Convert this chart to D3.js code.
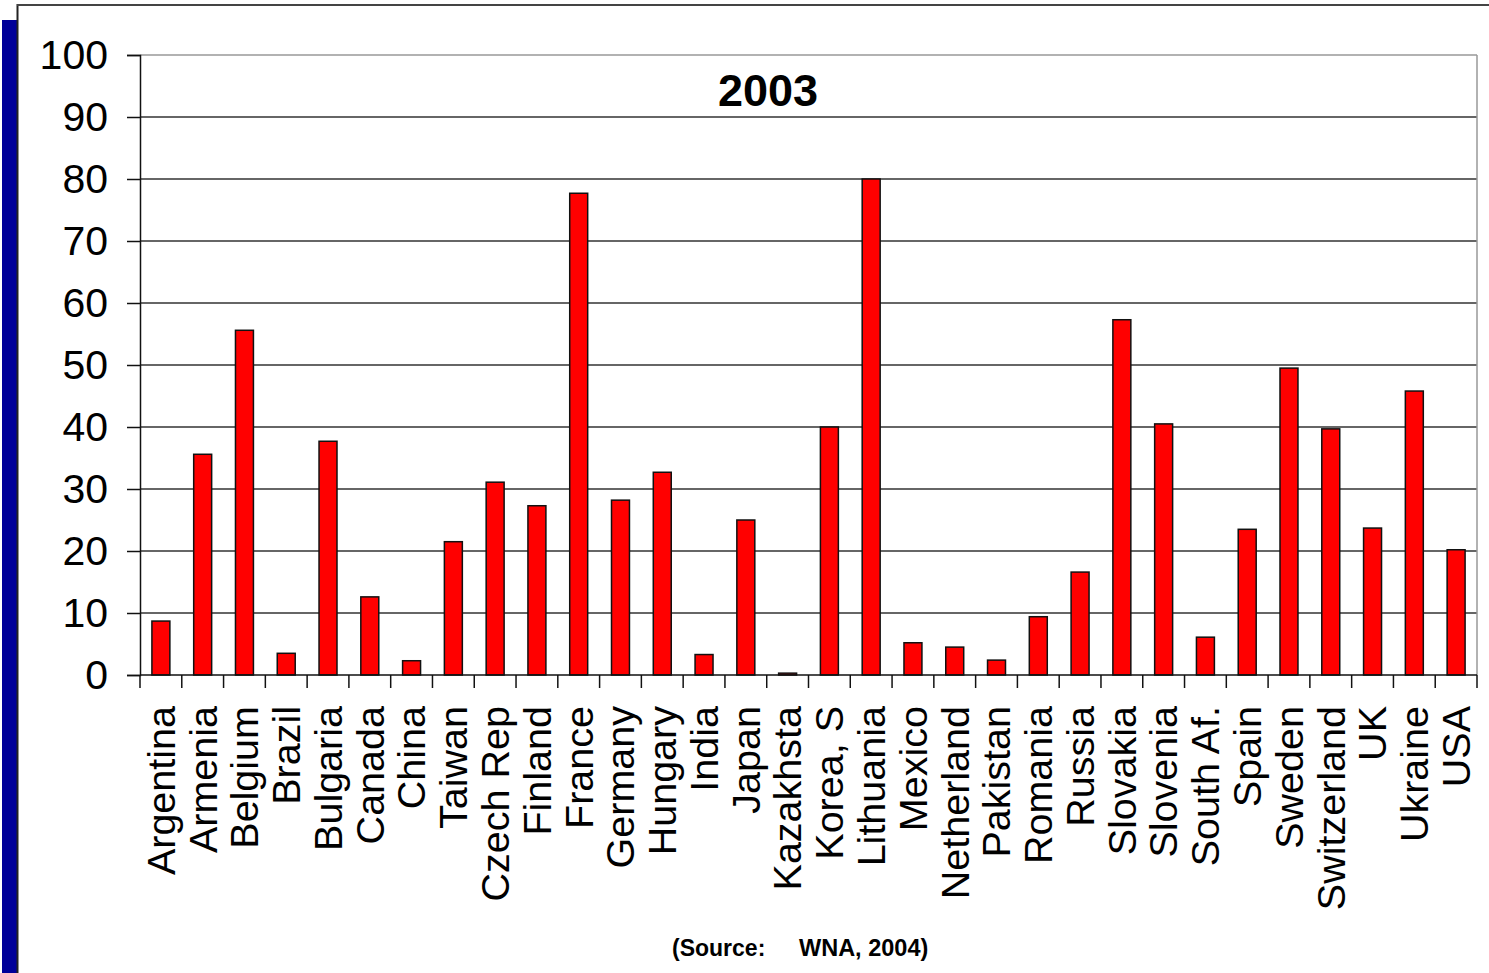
<!DOCTYPE html>
<html>
<head>
<meta charset="utf-8">
<script src="https://cdn.jsdelivr.net/npm/d3@7"></script>
<style>
  html, body { margin: 0; padding: 0; background: #fff; }
  svg { display: block; font-family: "Liberation Sans", Arial, sans-serif; }
</style>
</head>
<body>
<svg id="chart" width="1489" height="973"></svg>
<script>
// Nuclear share of electricity generation (%), 2003
const countries = ["Argentina", "Armenia", "Belgium", "Brazil", "Bulgaria", "Canada", "China", "Taiwan",
  "Czech Rep", "Finland", "France", "Germany", "Hungary", "India", "Japan", "Kazakhsta", "Korea, S",
  "Lithuania", "Mexico", "Netherland", "Pakistan", "Romania", "Russia", "Slovakia", "Slovenia",
  "South Af.", "Spain", "Sweden", "Switzerland", "UK", "Ukraine", "USA"];
const shares = [8.7, 35.6, 55.6, 3.5, 37.7, 12.6, 2.3, 21.5,
  31.1, 27.3, 77.7, 28.2, 32.7, 3.3, 25.0, 0.3, 40.0,
  80.0, 5.2, 4.5, 2.4, 9.4, 16.6, 57.3, 40.5,
  6.1, 23.5, 49.5, 39.7, 23.7, 45.8, 20.2];
const yTicks = [0, 10, 20, 30, 40, 50, 60, 70, 80, 90, 100];
const title = "2003";
const sourceParts = ["(Source:", "WNA, 2004)"];

const svg = d3.select("#chart");
const W = 1489, H = 973;
const plot = { left: 140, right: 1477, top: 55, bottom: 675 };

// Slide frame: blue side strip and dark edges
svg.append("rect").attr("x", 2).attr("y", 20).attr("width", 15).attr("height", H - 20).attr("fill", "#000099");
svg.append("line").attr("x1", 17.5).attr("x2", 17.5).attr("y1", 4).attr("y2", H)
  .attr("stroke", "#222").attr("stroke-width", 2);
svg.append("line").attr("x1", 17).attr("x2", W).attr("y1", 5).attr("y2", 5)
  .attr("stroke", "#444").attr("stroke-width", 2);

const x = d3.scaleBand().domain(countries).range([plot.left, plot.right]).paddingInner(0.57).paddingOuter(0.285);
const y = d3.scaleLinear().domain([0, 100]).range([plot.bottom, plot.top]);

// Horizontal gridlines
svg.append("g").selectAll("line").data(yTicks.filter(d => d > 0)).join("line")
  .attr("x1", plot.left).attr("x2", plot.right)
  .attr("y1", d => y(d)).attr("y2", d => y(d))
  .attr("stroke", d => d === 100 ? "#999" : "#333").attr("stroke-width", 1.5);

// Right edge of plot area
svg.append("line").attr("x1", plot.right).attr("x2", plot.right).attr("y1", plot.top).attr("y2", plot.bottom)
  .attr("stroke", "#999").attr("stroke-width", 1.5);

// Bars
svg.append("g").selectAll("rect").data(countries).join("rect")
  .attr("x", d => x(d))
  .attr("width", x.bandwidth())
  .attr("y", (d, i) => y(shares[i]))
  .attr("height", (d, i) => y(0) - y(shares[i]))
  .attr("fill", "#ff0000")
  .attr("stroke", "#111")
  .attr("stroke-width", 1.5);

// Y axis
const yAxis = d3.axisLeft(y).tickValues(yTicks).tickSize(13).tickPadding(19);
const gy = svg.append("g").attr("transform", `translate(${plot.left},0)`).call(yAxis);
gy.select(".domain").attr("stroke", "#111").attr("stroke-width", 1.5);
gy.selectAll(".tick line").attr("stroke", "#111").attr("stroke-width", 1.5);
gy.selectAll(".tick text").attr("font-size", 41).attr("fill", "#000")
  .attr("font-family", "'Liberation Sans', Arial, sans-serif");

// X axis: baseline with tick marks at category boundaries
const boundaries = d3.range(countries.length + 1).map(i => plot.left + i * (plot.right - plot.left) / countries.length);
svg.append("line").attr("x1", plot.left).attr("x2", plot.right).attr("y1", plot.bottom).attr("y2", plot.bottom)
  .attr("stroke", "#111").attr("stroke-width", 1.5);
svg.append("g").selectAll("line").data(boundaries).join("line")
  .attr("x1", d => d).attr("x2", d => d)
  .attr("y1", plot.bottom).attr("y2", plot.bottom + 13)
  .attr("stroke", "#111").attr("stroke-width", 1.5);

// Rotated category labels
svg.append("g").selectAll("text").data(countries).join("text")
  .attr("transform", d => `translate(${x(d) + x.bandwidth() / 2},${plot.bottom + 31}) rotate(-90)`)
  .attr("text-anchor", "end")
  .attr("dy", "0.35em")
  .attr("font-size", 39.5)
  .attr("fill", "#000")
  .text(d => d);

// Title
svg.append("text").attr("x", 768).attr("y", 106).attr("text-anchor", "middle")
  .attr("font-size", 45).attr("font-weight", "bold").attr("fill", "#000").text(title);

// Source note
svg.append("text").attr("x", 672).attr("y", 956)
  .attr("font-size", 23).attr("font-weight", "bold").attr("fill", "#000").text(sourceParts[0]);
svg.append("text").attr("x", 799).attr("y", 956)
  .attr("font-size", 23.5).attr("font-weight", "bold").attr("fill", "#000").text(sourceParts[1]);
</script>
</body>
</html>
